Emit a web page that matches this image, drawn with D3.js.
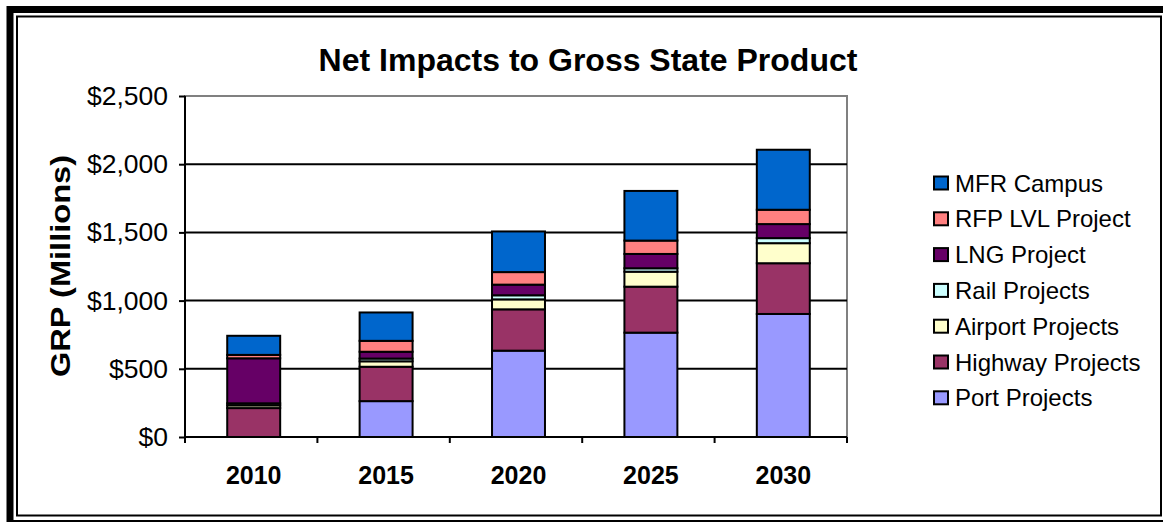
<!DOCTYPE html>
<html>
<head>
<meta charset="utf-8">
<script src="https://cdn.jsdelivr.net/npm/d3@7"></script>
<style>
  html, body { margin: 0; padding: 0; background: #fff; }
  svg { display: block; font-family: Arial, "Liberation Sans", sans-serif; }
</style>
</head>
<body>
<svg id="chart" width="1163" height="522"></svg>
<script>
// Years on the category axis
const years = ["2010", "2015", "2020", "2025", "2030"];

// Net GRP impact by project group, $ millions (stacked bottom to top)
const portProjects    = [0,   263, 633, 765, 902];
const highwayProjects = [212, 252, 303, 337, 372];
const airportProjects = [20,  40,  73,  110, 147];
const railProjects    = [15,  20,  30,  25,  37];
const lngProject      = [330, 50,  78,  105, 103];
const rfpLvlProject   = [25,  80,  92,  98,  105];
const mfrCampus       = [140, 208, 298, 364, 440];

const seriesNames = ["Port Projects", "Highway Projects", "Airport Projects",
                     "Rail Projects", "LNG Project", "RFP LVL Project", "MFR Campus"];
const seriesValues = [portProjects, highwayProjects, airportProjects,
                      railProjects, lngProject, rfpLvlProject, mfrCampus];
const seriesColors = ["#9999FF", "#993366", "#FFFFCC", "#CCFFFF", "#660066", "#FF8080", "#0066CC"];

const yTicks = [0, 500, 1000, 1500, 2000, 2500];

const svg = d3.select("#chart");

// Frame: heavy outer border plus a thin inner rule
svg.append("rect")
  .attr("x", 10).attr("y", 9.5).attr("width", 1170).attr("height", 514)
  .attr("fill", "none").attr("stroke", "#000").attr("stroke-width", 7);
svg.append("rect")
  .attr("x", 17).attr("y", 16.5).attr("width", 1144).attr("height", 499)
  .attr("fill", "none").attr("stroke", "#000").attr("stroke-width", 2);

const plot = { left: 185, right: 847, top: 96, bottom: 437 };

const x = d3.scaleBand()
  .domain(years)
  .range([plot.left + 2.5, plot.right + 2.5])
  .paddingInner(0.6)
  .paddingOuter(0.3);

const y = d3.scaleLinear()
  .domain([0, 2500])
  .range([plot.bottom, plot.top]);

// Stack data
const table = years.map((yr, i) => {
  const row = { year: yr };
  seriesNames.forEach((s, k) => { row[s] = seriesValues[k][i]; });
  return row;
});
const stacked = d3.stack().keys(seriesNames)(table);
const color = d3.scaleOrdinal().domain(seriesNames).range(seriesColors);

// Plot area border
svg.append("rect")
  .attr("x", plot.left).attr("y", plot.top)
  .attr("width", plot.right - plot.left).attr("height", plot.bottom - plot.top)
  .attr("fill", "none").attr("stroke", "#808080").attr("stroke-width", 2);

// Horizontal gridlines
svg.append("g")
  .selectAll("line")
  .data(yTicks.filter(t => t > 0 && t < 2500))
  .join("line")
  .attr("x1", plot.left).attr("x2", plot.right)
  .attr("y1", d => y(d)).attr("y2", d => y(d))
  .attr("stroke", "#000").attr("stroke-width", 2);

// Bars
svg.append("g")
  .selectAll("g")
  .data(stacked)
  .join("g")
  .attr("fill", d => color(d.key))
  .selectAll("rect")
  .data(d => d)
  .join("rect")
  .attr("x", d => x(d.data.year))
  .attr("width", x.bandwidth())
  .attr("y", d => y(d[1]))
  .attr("height", d => y(d[0]) - y(d[1]))
  .attr("stroke", "#000")
  .attr("stroke-width", 2);

// Y axis
const yAxis = svg.append("g")
  .attr("transform", `translate(${plot.left},0)`)
  .call(d3.axisLeft(y).tickValues(yTicks).tickSize(6).tickPadding(11)
    .tickFormat(d => "$" + d3.format(",")(d)));
yAxis.select(".domain").attr("stroke", "#000").attr("stroke-width", 2)
  .attr("d", `M0,${plot.top}V${plot.bottom + 6}`);
yAxis.selectAll(".tick line").attr("stroke", "#000").attr("stroke-width", 2);
yAxis.selectAll(".tick text")
  .attr("font-size", 26.5).attr("fill", "#000")
  .attr("font-family", "Arial, 'Liberation Sans', sans-serif");

// X axis: ticks sit at category boundaries
const xAxis = svg.append("g")
  .attr("transform", `translate(0,${plot.bottom})`);
xAxis.append("line")
  .attr("x1", plot.left).attr("x2", plot.right)
  .attr("stroke", "#000").attr("stroke-width", 2);
const step = (plot.right - plot.left) / years.length;
xAxis.selectAll("line.tk")
  .data(d3.range(years.length + 1))
  .join("line").attr("class", "tk")
  .attr("x1", i => plot.left + i * step).attr("x2", i => plot.left + i * step)
  .attr("y1", 0).attr("y2", 6)
  .attr("stroke", "#000").attr("stroke-width", 2);
xAxis.selectAll("text")
  .data(years)
  .join("text")
  .attr("x", d => x(d) + x.bandwidth() / 2)
  .attr("y", 47)
  .attr("text-anchor", "middle")
  .attr("font-size", 25).attr("font-weight", "bold")
  .text(d => d);

// Title
svg.append("text")
  .attr("x", 588).attr("y", 71)
  .attr("text-anchor", "middle")
  .attr("font-size", 32).attr("font-weight", "bold")
  .text("Net Impacts to Gross State Product");

// Y axis title
svg.append("text")
  .attr("transform", `translate(70,266) rotate(-90)`)
  .attr("text-anchor", "middle")
  .attr("font-size", 28).attr("font-weight", "bold")
  .attr("textLength", 222).attr("lengthAdjust", "spacingAndGlyphs")
  .text("GRP (Millions)");

// Legend, top entry is the top of the stack
const legendItems = seriesNames.slice().reverse();
const legend = svg.append("g").attr("transform", "translate(934,183)");
const li = legend.selectAll("g")
  .data(legendItems)
  .join("g")
  .attr("transform", (d, i) => `translate(0,${i * 35.8})`);
li.append("rect")
  .attr("x", 0).attr("y", -6.5).attr("width", 14).attr("height", 13)
  .attr("fill", d => color(d)).attr("stroke", "#000").attr("stroke-width", 2);
li.append("text")
  .attr("x", 21).attr("y", 8.5)
  .attr("font-size", 24)
  .text(d => d);
</script>
</body>
</html>
